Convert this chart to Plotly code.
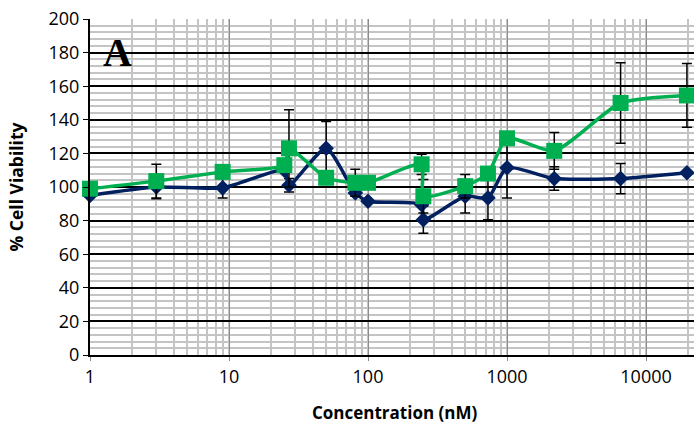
import plotly.graph_objects as go

concentration = [1, 3, 9, 25, 27, 50, 81, 100, 243, 250, 500, 729, 1000, 2187, 6561, 19683]
navy_values = [95, 100, 99.5, 110, 101, 123, 96.5, 91.5, 89.5, 80.5, 94.5, 93.5, 111.5, 105, 105, 108.5]
navy_err = [0, 7, 6, 0, 4, 16, 0, 0, 0, 8, 10, 13, 18, 7, 9, 0]
green_values = [99, 103.5, 109, 113, 123, 105.5, 102.5, 102.5, 113.5, 94.5, 100.5, 108, 129, 121.5, 150, 154.5]
green_err = [0, 10, 0, 0, 23, 0, 8, 0, 6, 10, 7, 0, 0, 11, 24, 19]

x_tick_vals = [1, 10, 100, 1000, 10000]
x_tick_labels = ["1", "10", "100", "1000", "10000"]
y_tick_vals = [0, 20, 40, 60, 80, 100, 120, 140, 160, 180, 200]

NAVY = "#002060"
GREEN = "#00B050"
FONT = "Open Sans"

fig = go.Figure()
fig.add_trace(go.Scatter(
    x=concentration, y=navy_values, mode="lines+markers",
    line=dict(color=NAVY, width=3.5, shape="spline", smoothing=0.6),
    marker=dict(symbol="diamond", size=12, color=NAVY),
    error_y=dict(type="data", array=navy_err, visible=True, color="black", thickness=1.5, width=5),
    cliponaxis=False, showlegend=False,
))
fig.add_trace(go.Scatter(
    x=concentration, y=green_values, mode="lines+markers",
    line=dict(color=GREEN, width=3.5, shape="spline", smoothing=0.6),
    marker=dict(symbol="square", size=16, color=GREEN),
    error_y=dict(type="data", array=green_err, visible=True, color="black", thickness=1.5, width=5),
    cliponaxis=False, showlegend=False,
))

fig.update_layout(
    width=694, height=425,
    margin=dict(l=90, r=0, t=19, b=70, autoexpand=False),
    paper_bgcolor="white", plot_bgcolor="white",
    font=dict(family=FONT, color="black"),
    xaxis=dict(
        type="log", range=[0, 4.345], automargin=False,
        tickvals=x_tick_vals, ticktext=x_tick_labels,
        tickfont=dict(size=18, family=FONT), ticklabeloverflow="allow",
        showgrid=True, gridcolor="#8C8C8C", gridwidth=1,
        minor=dict(dtick="D1", showgrid=True, gridcolor="#C4C4C4", gridwidth=2, ticks=""),
        showline=True, linecolor="black", linewidth=2,
        ticks="outside", ticklen=4, tickcolor="#8C8C8C",
        zeroline=False,
    ),
    yaxis=dict(
        range=[0, 200], tickvals=y_tick_vals, automargin=False,
        tickfont=dict(size=18, family=FONT), ticklabeloverflow="allow",
        showgrid=True, gridcolor="black", gridwidth=1.5,
        minor=dict(dtick=4, showgrid=True, gridcolor="#C4C4C4", gridwidth=2, ticks=""),
        showline=True, linecolor="black", linewidth=2,
        ticks="outside", ticklen=5, tickcolor="black",
        zeroline=False,
        title=dict(text="<b>% Cell Viability</b>", font=dict(family=FONT, size=17.5), standoff=20),
    ),
    annotations=[
        dict(text="<b>A</b>", xref="paper", yref="paper", x=0.045, y=0.899,
             xanchor="center", yanchor="middle",
             showarrow=False, font=dict(family="Liberation Serif", size=40, color="black")),
        dict(text="<b>Concentration (nM)</b>", xref="paper", yref="paper", x=0.505, y=-0.2083,
             xanchor="center", yanchor="bottom", borderpad=0, showarrow=False,
             font=dict(family=FONT, size=17, color="black")),
    ],
)

fig.write_html("out.html", config={"displayModeBar": False},
               post_script="document.body.style.margin='0';")
